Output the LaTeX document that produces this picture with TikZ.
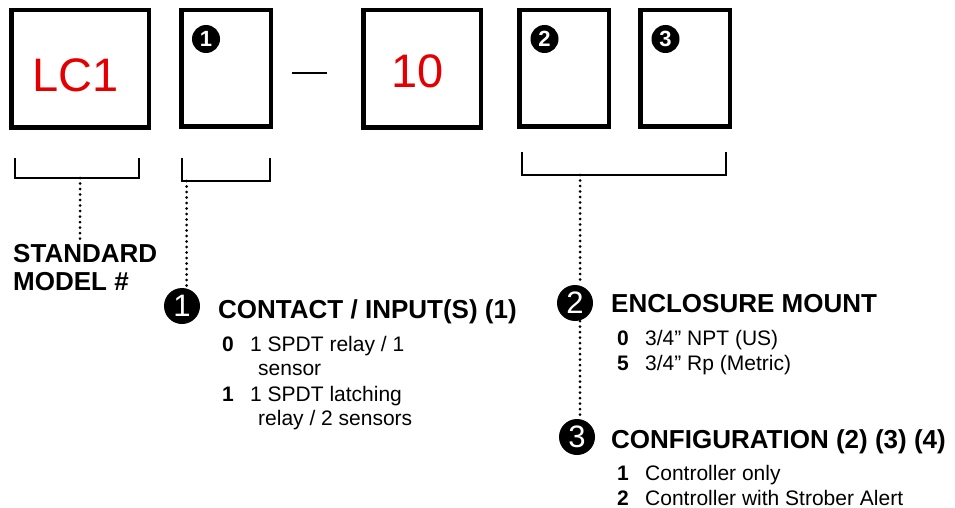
\documentclass[tikz,border=0pt]{standalone}
\usepackage{fontspec}
\setmainfont{Liberation Sans}
\usetikzlibrary{positioning}
\definecolor{codered}{RGB}{228,0,0}

\tikzset{
  codebox/.style={draw, line width=4.5pt, inner sep=0pt},
  brace/.style={line width=1.8pt},
  dotline/.style={line width=3pt, line cap=round, dash pattern=on 0pt off 5.5pt},
  smallnum/.style={circle, fill=black, text=white, inner sep=0pt, minimum size=28pt, font=\fontsize{22}{22}\selectfont\bfseries},
  bignum/.style={circle, fill=black, text=white, inner sep=0pt, minimum size=36pt, font=\fontsize{31}{31}\selectfont},
  heading/.style={anchor=base west, inner sep=0pt, font=\fontsize{26}{26}\selectfont\bfseries},
  item/.style={anchor=base west, inner sep=0pt, font=\fontsize{21}{25}\selectfont},
  key/.style={anchor=base west, inner sep=0pt, font=\fontsize{21}{25}\selectfont\bfseries},
}

\begin{document}
\begin{tikzpicture}[x=1pt, y=-1pt]
  \useasboundingbox (0,0) rectangle (955,508);

  % code boxes
  \node[codebox, minimum width=137.5pt, minimum height=117.5pt] (lc) at (80,69) {};
  \node[codebox, minimum width=89.5pt, minimum height=116.5pt] (boxa) at (226,68.5) {};
  \node[codebox, minimum width=117.5pt, minimum height=117.5pt] (ten) at (422,69) {};
  \node[codebox, minimum width=89.5pt, minimum height=116.5pt] (boxb) at (564,68.5) {};
  \node[codebox, minimum width=89.5pt, minimum height=116.5pt] (boxc) at (685,68.5) {};
  \node[text=codered, inner sep=0pt, font=\fontsize{47}{47}\selectfont] (lctxt) at (75.5,75) {LC1};
  \node[text=codered, inner sep=0pt, font=\fontsize{47}{47}\selectfont] (tentxt) at (418,71) {10};
  \draw[line width=2.2pt] (292,73) -- (327,73);

  \node[smallnum] (sa) at (206,39) {1};
  \node[smallnum] (sb) at (544.5,39) {2};
  \node[smallnum] (sc) at (665.5,39) {3};

  % brackets
  \draw[brace] (15,158) |- (139,178) -- (139,158);
  \draw[brace] (182,158) |- (270,181) -- (270,158);
  \draw[brace] (522,152) |- (726,175) -- (726,152);
  \coordinate (ba) at (80,178);
  \coordinate (bb) at (186.5,181);
  \coordinate (bc) at (580,175);

  % labels
  \node[heading, font=\fontsize{26}{26}\selectfont\bfseries] (std) at (13,262) {STANDARD};
  \node[heading, font=\fontsize{26}{26}\selectfont\bfseries] (model) at (13,290) {MODEL \#};

  \node[bignum] (ca) at (182,306) {1};
  \node[heading] (contact) at (218,318) {CONTACT / INPUT(S) (1)};
  \node[key] (ka) at (222,351) {0};
  \node[item] (ia) at (250,351) {1 SPDT relay / 1};
  \node[item] (ib) at (258,375) {sensor};
  \node[key] (kb) at (222,401) {1};
  \node[item] (ic) at (250,401) {1 SPDT latching};
  \node[item] (id) at (258,425) {relay / 2 sensors};

  \node[bignum] (cb) at (575,303) {2};
  \node[heading] (encl) at (611,312) {ENCLOSURE MOUNT};
  \node[key] (kc) at (617,345) {0};
  \node[item] (ie) at (645,345) {3/4” NPT (US)};
  \node[key] (kd) at (617,370) {5};
  \node[item] (if) at (645,370) {3/4” Rp (Metric)};

  \node[bignum] (cc) at (577,437) {3};
  \node[heading] (config) at (611,448) {CONFIGURATION (2) (3) (4)};
  \node[key] (ke) at (617,480) {1};
  \node[item] (ig) at (645,480) {Controller only};
  \node[key] (kf) at (617,505) {2};
  \node[item] (ih) at (645,505) {Controller with Strober Alert};

  % dotted leaders
  \draw[dotline] (ba) -- (ba |- std.north);
  \draw[dotline] (bb) -- (bb |- ca.north);
  \draw[dotline] (bc) -- (bc |- cb.north);
  \draw[dotline] (bc |- cb.south) -- (bc |- cc.north);
\end{tikzpicture}
\end{document}
